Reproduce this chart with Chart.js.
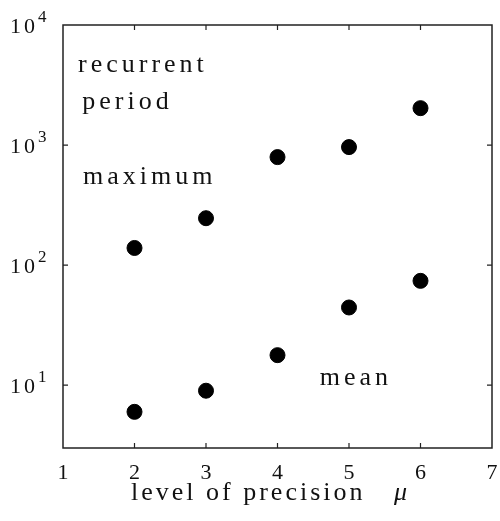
<!DOCTYPE html>
<html><head><meta charset="utf-8">
<script src="https://cdn.jsdelivr.net/npm/chart.js@4"></script>
<style>html,body{margin:0;padding:0;background:#fff}#wrap{width:500px;height:521px}</style>
</head><body><div id="wrap"><canvas id="c" width="500" height="521"></canvas></div>
<script>
const precisionLevels = [2, 3, 4, 5, 6];
const maximumPeriod = [139, 246, 794, 962, 2030];
const meanPeriod = [6.0, 9.0, 17.8, 44.4, 74];
const xTickValues = [1, 2, 3, 4, 5, 6, 7];
const xTickLabels = ['1', '2', '3', '4', '5', '6', '7'];
const yTickValues = [10, 100, 1000, 10000];
const yTickExponents = ['1', '2', '3', '4'];
const annotationTexts = ['recurrent', 'period', 'maximum', 'mean'];
const annotationX = [1.21, 1.27, 1.28, 4.59];
const annotationY = [4060, 1995, 473, 10];
const xAxisTitle = 'level of precision';
const xAxisSymbol = 'μ';

const FONT = '"Liberation Serif", "DejaVu Serif", serif';

const framePlugin = {
  id: 'frame',
  afterDraw(chart) {
    const ctx = chart.ctx;
    const a = chart.chartArea;
    const xs = chart.scales.x, ys = chart.scales.y;
    ctx.save();
    // frame
    ctx.strokeStyle = '#222';
    ctx.lineWidth = 1.5;
    ctx.strokeRect(a.left, a.top, a.right - a.left, a.bottom - a.top);
    // inward tick marks
    ctx.lineWidth = 1.2;
    ctx.beginPath();
    xTickValues.forEach(v => {
      const px = xs.getPixelForValue(v);
      if (px <= a.left + 1 || px >= a.right - 1) return;
      ctx.moveTo(px, a.bottom); ctx.lineTo(px, a.bottom - 5);
      ctx.moveTo(px, a.top); ctx.lineTo(px, a.top + 5);
    });
    yTickValues.forEach(v => {
      const py = ys.getPixelForValue(v);
      if (py <= a.top + 1 || py >= a.bottom - 1) return;
      ctx.moveTo(a.left, py); ctx.lineTo(a.left + 5, py);
      ctx.moveTo(a.right, py); ctx.lineTo(a.right - 5, py);
    });
    ctx.stroke();
    ctx.fillStyle = '#111';
    // x tick labels
    ctx.font = '22px ' + FONT;
    ctx.textAlign = 'center';
    ctx.textBaseline = 'alphabetic';
    xTickValues.forEach((v, i) => {
      ctx.fillText(xTickLabels[i], xs.getPixelForValue(v), a.bottom + 31);
    });
    // y tick labels 10^n
    ctx.textAlign = 'left';
    yTickValues.forEach((v, i) => {
      const py = ys.getPixelForValue(v);
      ctx.font = '22px ' + FONT;
      ctx.letterSpacing = '3px';
      ctx.fillText('10', 10, py + 8);
      ctx.font = '17px ' + FONT;
      ctx.letterSpacing = '0px';
      ctx.fillText(yTickExponents[i], 38, py - 3);
    });
    // annotations
    ctx.font = '26px ' + FONT;
    ctx.letterSpacing = '4px';
    annotationTexts.forEach((t, i) => {
      ctx.fillText(t, xs.getPixelForValue(annotationX[i]), ys.getPixelForValue(annotationY[i]));
    });
    // axis title
    ctx.font = '26px ' + FONT;
    ctx.letterSpacing = '3px';
    ctx.fillText(xAxisTitle, a.left + 68, a.bottom + 52);
    ctx.letterSpacing = '0px';
    ctx.font = 'italic 26px ' + FONT;
    ctx.fillText(xAxisSymbol, a.left + 331, a.bottom + 52);
    ctx.restore();
  }
};

new Chart(document.getElementById('c'), {
  type: 'scatter',
  data: {
    datasets: [
      {
        label: 'maximum',
        data: precisionLevels.map((x, i) => ({ x, y: maximumPeriod[i] })),
        backgroundColor: '#000', borderColor: '#000', pointRadius: 7.5, pointHoverRadius: 7.5
      },
      {
        label: 'mean',
        data: precisionLevels.map((x, i) => ({ x, y: meanPeriod[i] })),
        backgroundColor: '#000', borderColor: '#000', pointRadius: 7.5, pointHoverRadius: 7.5
      }
    ]
  },
  options: {
    responsive: false,
    devicePixelRatio: 1,
    animation: false,
    layout: { autoPadding: false, padding: { left: 63, right: 8, top: 25, bottom: 73 } },
    plugins: { legend: { display: false }, tooltip: { enabled: false } },
    scales: {
      x: { type: 'linear', min: 1, max: 7, display: false },
      y: { type: 'logarithmic', min: 3, max: 10000, display: false }
    }
  },
  plugins: [framePlugin]
});
</script>
</body></html>
